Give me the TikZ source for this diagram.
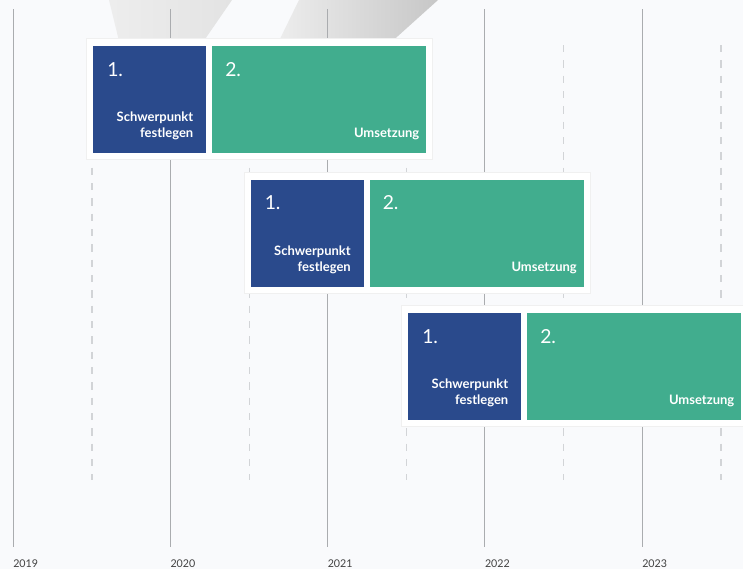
\documentclass[tikz,border=0pt]{standalone}
\usepackage{fontspec}
\setmainfont{Lato}
\usetikzlibrary{calc}
\definecolor{sblue}{HTML}{2A4A8C}
\definecolor{ugreen}{HTML}{41AD8E}
\definecolor{bgtint}{HTML}{F9FAFC}
\definecolor{gridgray}{HTML}{AAACAF}
\definecolor{dashgray}{HTML}{D2D4D7}
\tikzset{
  phase/.style={inner sep=0pt, minimum height=80.25pt, anchor=north west},
  first/.style={phase, fill=sblue, minimum width=84.75pt},
  second/.style={phase, fill=ugreen, minimum width=160.5pt},
  num/.style={text=white, font=\fontsize{14.5}{17}\selectfont, anchor=base west, inner sep=0pt},
  captext/.style={text=white, font=\bfseries\fontsize{9.75}{12}\selectfont, align=right, anchor=south east, inner sep=0pt},
  year/.style={text=black!75, font=\fontsize{8}{9}\selectfont, anchor=base west, inner sep=0pt},
  yearline/.style={gridgray, line width=0.75pt},
  halfline/.style={dashgray, line width=0.8pt, dash pattern=on 5.5pt off 6pt},
}

\begin{document}
\begin{tikzpicture}[x=0.75pt, y=-0.75pt]
  %%%%% START %%%%%
  \useasboundingbox (0,0) rectangle (743,569);
  \fill[bgtint] (0,0) rectangle (743,569);

  % grey shapes at the top
  \shade[left color=black!7, right color=black!11] (109,0) -- (232,0) -- (201,45) -- (120,45) -- cycle;
  \shade[left color=black!7, right color=black!22] (299,0) -- (438,0) -- (388,45) -- (277,45) -- cycle;

  % years
  \foreach \i in {0,...,4}{
    \pgfmathtruncatemacro{\yr}{2019+\i}
    \draw[yearline] (13+157.25*\i,9) -- (13+157.25*\i,547);
    \draw[halfline] (92+157.25*\i,45) -- (92+157.25*\i,480);
    \node[year] (y\i) at (13+157.25*\i,567.5) {\yr};
  }

  % the three rounds
  \foreach \r in {0,1,2}{
    \begin{scope}[shift={(157.5*\r,133.5*\r)}]
      \fill[white, draw=black!6] (86.5,38.5) rectangle (432.5,159.5);
      \node[first] (s\r) at (93,46) {};
      \node[second] (u\r) at (212,46) {};
      \node[num] (n\r) at ($(s\r.north west)+(14,30)$) {1.};
      \node[num] (m\r) at ($(u\r.north west)+(13,30)$) {2.};
      \node[captext] (c\r) at ($(s\r.south east)+(-13,-13.4)$) {Schwerpunkt\\festlegen};
      \node[captext] (d\r) at ($(u\r.south east)+(-7,-13.4)$) {Umsetzung};
    \end{scope}
  }
  %%%%% END %%%%%
\end{tikzpicture}
\end{document}
